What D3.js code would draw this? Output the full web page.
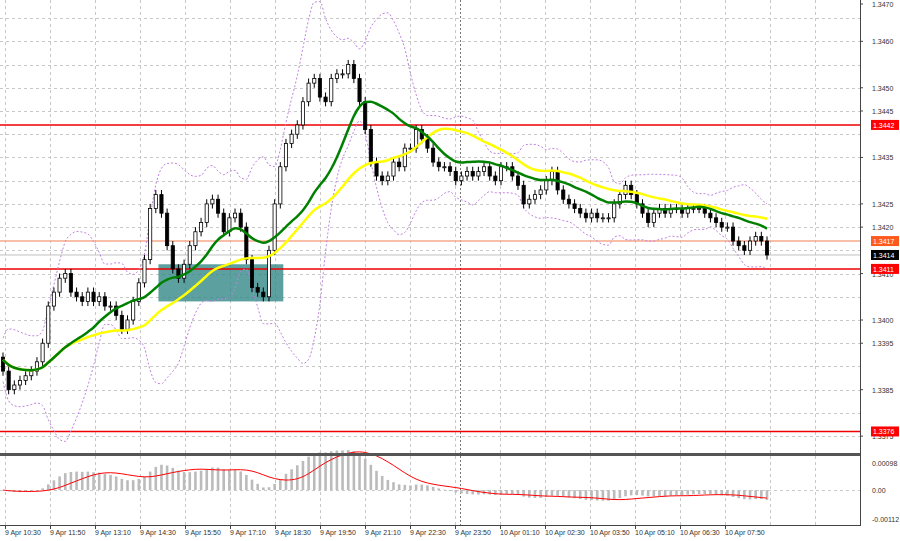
<!DOCTYPE html>
<html><head><meta charset="utf-8">
<script src="https://cdn.jsdelivr.net/npm/d3@7"></script>
<style>body{margin:0;background:#fff}svg{display:block;font-family:"Liberation Sans",sans-serif}</style>
</head><body><svg id="c" width="900" height="541"></svg>
<script>
// 10-minute closes
var closes = [1.3389,1.3385,1.3386,1.3387,1.3388,1.3389,1.3391,1.3395,1.3403,1.3406,1.3409,1.3410,1.3406,1.3405,1.3404,1.3406,1.3404,1.3405,1.3403,1.3403,
  1.3401,1.3398,1.3400,1.3404,1.3408,1.3413,1.3424,1.3427,1.3423,1.3416,1.3411,1.3409,1.3412,1.3416,1.3419,1.3421,1.3425,1.3426,1.3423,1.3419,
  1.3422,1.3423,1.3420,1.3413,1.3407,1.3406,1.3405,1.3415,1.3425,1.3433,1.3438,1.3440,1.3442,1.3447,1.3451,1.3452,1.3448,1.3447,1.3452,1.3453,
  1.3453,1.3455,1.3452,1.3447,
  1.3441,1.3434,1.3431,1.3430,1.3431,1.3434,1.3433,1.3437,1.3437,1.3441,1.3439,1.3437,1.3434,1.3433,1.3433,1.3432,1.3430,1.3431,1.3432,1.3431,
  1.3432,1.3433,1.3431,1.3430,1.3433,1.3433,1.3431,1.3429,1.3425,1.3426,1.3427,1.3428,1.3430,1.3432,1.3428,1.3426,1.3425,1.3424,1.3423,1.3422,
  1.3423,1.3422,1.3422,1.3422,1.3425,1.3427,1.3429,1.3427,1.3425,1.3423,1.3421,1.3423,1.3424,1.3423,1.3424,1.3424,1.3423,1.3424,1.3424,1.3424,
  1.3423,1.3422,1.3421,1.3420,1.3420,1.3417,1.3416,1.3415,1.3417,1.3418,1.3417,1.3414];
var startPrice = 1.3392;
var timeLabels = ["9 Apr 10:30","9 Apr 11:50","9 Apr 13:10","9 Apr 14:30","9 Apr 15:50","9 Apr 17:10","9 Apr 18:30","9 Apr 19:50","9 Apr 21:10","9 Apr 22:30","9 Apr 23:50","10 Apr 01:10","10 Apr 02:30","10 Apr 03:50","10 Apr 05:10","10 Apr 06:30","10 Apr 07:50"];
var priceTicks = [1.3470,1.3460,1.3450,1.3445,1.3435,1.3425,1.3420,1.3410,1.3400,1.3395,1.3385,1.3375];
var levels = [1.3442,1.3411,1.3376];
var orangeLevel = 1.3417, bidLevel = 1.3414;
var zone = {from:28, to:49, hi:1.3412, lo:1.3404};
var macdTicks = [0.00098,0,-0.00112];

var svg = d3.select("#c");
var W = 860;
var x = d3.scaleLinear().domain([0, closes.length-1]).range([3, 767]);
var y = d3.scaleLinear().domain([1.3400,1.3445]).range([320,111]);
var ym = d3.scaleLinear().domain([-0.00112,0.00098]).range([521,463]);
var bw = 3.2;

// grid
svg.append("g").selectAll("line").data(d3.range(1.3375,1.34701,0.0005)).join("line")
  .attr("x1",0).attr("x2",W).attr("y1",d=>Math.round(y(d))+.5).attr("y2",d=>Math.round(y(d))+.5)
  .attr("stroke","#c8c8c8").attr("stroke-dasharray","3,3");
var gx = timeLabels.map((t,i)=>5+i*45);
d3.range(0,19).forEach(function(i){
  var xx = 5+i*45+.5;
  svg.append("line").attr("x1",xx).attr("x2",xx).attr("y1",0).attr("y2",525)
    .attr("stroke","#c8c8c8").attr("stroke-dasharray","3,3");
});
svg.append("line").attr("x1",460.5).attr("x2",460.5).attr("y1",0).attr("y2",525)
  .attr("stroke","#777").attr("stroke-dasharray","2,2");
svg.append("line").attr("x1",0).attr("x2",W).attr("y1",ym(0)+.5).attr("y2",ym(0)+.5).attr("stroke","#c8c8c8").attr("stroke-dasharray","3,3");

// zone
svg.append("rect").attr("x",x(zone.from)-3).attr("width",x(zone.to)-x(zone.from)+6)
  .attr("y",y(zone.hi)).attr("height",y(zone.lo)-y(zone.hi)).attr("fill","#2e8585").attr("opacity",0.78);

// levels
svg.append("line").attr("x1",0).attr("x2",W).attr("y1",y(orangeLevel)).attr("y2",y(orangeLevel)).attr("stroke","#f7a98a").attr("stroke-width",1.5);
svg.append("line").attr("x1",0).attr("x2",W).attr("y1",y(bidLevel)).attr("y2",y(bidLevel)).attr("stroke","#c0c0c0");
levels.forEach(l=>svg.append("line").attr("x1",0).attr("x2",W).attr("y1",y(l)).attr("y2",y(l)).attr("stroke","#e00").attr("stroke-width",1.5));

// indicators
var opens = closes.map((c,i)=>i?closes[i-1]:startPrice);
var hist = [startPrice,startPrice,startPrice,startPrice].concat(closes);
function sma(arr,n){return arr.map((v,i)=>d3.mean(arr.slice(Math.max(0,i-n+1),i+1)));}
function ema(arr,n){var k=2/(n+1),out=[],p=arr[0];arr.forEach(v=>{p=p+k*(v-p);out.push(p);});return out;}
var green = sma(hist,16).slice(4), yellow = sma(hist,30).slice(4);
var bbU=[],bbL=[];
closes.forEach(function(c,i){var w=hist.slice(Math.max(0,i-6),i+5);var m=d3.mean(w),s=d3.deviation(w)||0.0004;bbU.push(m+2*s+0.0002);bbL.push(m-2*s-0.0002);});
var line = d3.line().x((d,i)=>x(i)).y(d=>y(d)).curve(d3.curveMonotoneX);
svg.append("path").attr("d",line(bbU)).attr("fill","none").attr("stroke","#c080e0").attr("stroke-dasharray","2,2");
svg.append("path").attr("d",line(bbL)).attr("fill","none").attr("stroke","#c080e0").attr("stroke-dasharray","2,2");

// candles
var g = svg.append("g");
closes.forEach(function(c,i){
  var o=opens[i], hi=Math.max(o,c)+0.0001, lo=Math.min(o,c)-0.0001, xx=x(i);
  g.append("line").attr("x1",xx).attr("x2",xx).attr("y1",y(hi)).attr("y2",y(lo)).attr("stroke","#000");
  g.append("rect").attr("x",xx-bw/2).attr("width",bw).attr("y",y(Math.max(o,c))).attr("height",Math.max(1,Math.abs(y(o)-y(c))))
    .attr("fill",c>=o?"#fff":"#000").attr("stroke","#000").attr("stroke-width",0.8);
});
svg.append("path").attr("d",line(yellow)).attr("fill","none").attr("stroke","#ffff00").attr("stroke-width",2.5);
svg.append("path").attr("d",line(green)).attr("fill","none").attr("stroke","#008000").attr("stroke-width",2.5);

// macd
var e12=ema(closes,12), e26=ema(closes,26);
var macd = e12.map((v,i)=>(v-e26[i])*1.4);
var sig = sma(macd,9);
svg.append("g").selectAll("line").data(macd).join("line")
  .attr("x1",(d,i)=>x(i)).attr("x2",(d,i)=>x(i)).attr("y1",ym(0)).attr("y2",d=>ym(d))
  .attr("stroke","#bbb").attr("stroke-width",2.6);
svg.append("path").attr("d",d3.line().x((d,i)=>x(i)).y(d=>ym(d)).curve(d3.curveBasis)(sig)).attr("fill","none").attr("stroke","#f00");

// frames
svg.append("line").attr("x1",0).attr("x2",W).attr("y1",454.5).attr("y2",454.5).attr("stroke","#555").attr("stroke-width",3);
svg.append("line").attr("x1",0).attr("x2",W).attr("y1",525.5).attr("y2",525.5).attr("stroke","#444");
svg.append("line").attr("x1",W+.5).attr("x2",W+.5).attr("y1",0).attr("y2",526).attr("stroke","#444");

// right axis
var ra = svg.append("g").attr("font-size",7).attr("fill","#333");
priceTicks.forEach(function(p){
  var yy = Math.max(4, y(p));
  ra.append("line").attr("x1",W).attr("x2",W+3).attr("y1",yy).attr("y2",yy).attr("stroke","#444");
  ra.append("text").attr("x",W+12).attr("y",yy+3).text(p.toFixed(4));
});
macdTicks.forEach(function(p){
  ra.append("text").attr("x",W+12).attr("y",Math.min(ym(p)+3,522)).text(p===0?"0.00":p.toFixed(5));
});
function tag(p,col){
  svg.append("rect").attr("x",W+11).attr("y",y(p)-5).attr("width",28).attr("height",10).attr("fill",col);
  svg.append("text").attr("x",W+13).attr("y",y(p)+3).attr("font-size",7).attr("fill","#fff").text(p.toFixed(4));
}
levels.forEach(l=>tag(l,"#f00")); tag(orangeLevel,"#ff5a1e"); tag(bidLevel,"#000");

// time axis
svg.append("g").selectAll("text").data(timeLabels).join("text")
  .attr("x",(d,i)=>gx[i]).attr("y",535).attr("font-size",7).attr("fill","#333").text(d=>d);
gx.forEach(v=>svg.append("line").attr("x1",v+.5).attr("x2",v+.5).attr("y1",525).attr("y2",529).attr("stroke","#444"));
</script></body></html>
